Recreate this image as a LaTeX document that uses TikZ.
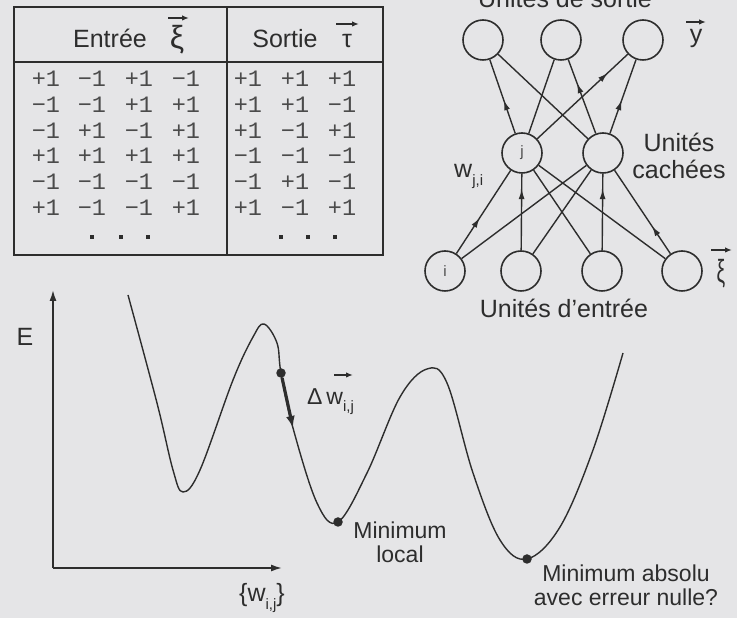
\documentclass[tikz,border=0pt]{standalone}
\usepackage{fontspec}
\setmainfont{Liberation Sans}
\setmonofont{Liberation Mono}
\usepackage{tikz}
\usetikzlibrary{positioning, decorations.markings, arrows.meta}

\definecolor{fond}{RGB}{229,229,231}
\definecolor{trait}{RGB}{45,45,45}
\definecolor{chiffre}{RGB}{75,75,75}

\newcommand{\subidx}[1]{\raisebox{-0.55ex}{\fontsize{15}{15}\selectfont #1}}

\tikzset{
    neuron/.style={circle, draw=trait, line width=1.6pt, minimum size=40pt, inner sep=0pt,
        font=\fontsize{15}{15}\selectfont, text=chiffre},
    edge/.style={draw=trait, line width=1.4pt},
    midarrow/.style={postaction={decorate}, decoration={markings,
        mark=at position #1 with {\arrow{Latex[length=10pt,width=6pt]}}}},
    lbl/.style={font=\fontsize{25}{27}\selectfont, text=trait, align=center, inner sep=0pt},
    note/.style={font=\fontsize{23}{24}\selectfont, text=trait, align=center, inner sep=0pt},
    greek/.style={font=\fontsize{32}{32}\selectfont, text=trait, inner sep=0pt},
    num/.style={font=\ttfamily\fontsize{23.5}{23.5}\selectfont, text=chiffre, inner sep=0pt},
    vecarrow/.style={-{Latex[length=7pt,width=5.5pt]}, line width=1.6pt, draw=trait},
    tableline/.style={draw=trait, line width=1.6pt},
    pointsq/.style={rectangle, fill=trait, inner sep=0pt, minimum size=4.5pt},
    dotpt/.style={circle, fill=trait, inner sep=0pt, minimum size=9.5pt},
    courbe/.style={draw=trait, line width=1.4pt},
}

\begin{document}
\begin{tikzpicture}[>=latex, x=1pt, y=1pt]
    \useasboundingbox (0,0) rectangle (737,618);
    \clip (0,0) rectangle (737,618);
    \fill[fond] (0,0) rectangle (737,618);

    % Bảng dữ liệu
    \draw[tableline] (14,363) rectangle (383,611);
    \draw[tableline] (14,556) -- (383,556);
    \draw[tableline] (227,363) -- (227,611);
    \node[lbl, anchor=base] (entree) at (110,570) {Entrée};
    \node[greek, anchor=base] (xi) at (177,569) {ξ};
    \draw[vecarrow] (168,600) -- (189,600);
    \node[lbl, anchor=base] (sortie) at (285,570) {Sortie};
    \node[lbl, anchor=base] (tau) at (347,570) {τ};
    \draw[vecarrow] (336,594) -- (359,594);
    \foreach \ligne [count=\r] in {{+1,−1,+1,−1,+1,+1,+1},{−1,−1,+1,+1,+1,+1,−1},
        {−1,+1,−1,+1,+1,−1,+1},{+1,+1,+1,+1,−1,−1,−1},{−1,−1,−1,−1,−1,+1,−1},
        {+1,−1,−1,+1,+1,−1,+1}} {
        \foreach \v [count=\c] in \ligne {
            \pgfmathsetmacro{\xx}{{46,92,139,186,248,295,342}[\c-1]}
            \node[num] (v-\r-\c) at (\xx, {565-25.8*\r}) {\v};
        }
    }
    \foreach \x [count=\k] in {92,121,148,281,308,335}
        \node[pointsq] (pt-\k) at (\x,381) {};

    % Mạng nơ-ron
    \node[neuron] (o1) at (483,578) {};
    \node[neuron] (o2) at (561,578) {};
    \node[neuron] (o3) at (643,578) {};
    \node[neuron] (h1) at (522,465) {j};
    \node[neuron] (h2) at (603,465) {};
    \node[neuron] (i1) at (445,347) {i};
    \node[neuron] (i2) at (521,347) {};
    \node[neuron] (i3) at (602,347) {};
    \node[neuron] (i4) at (682,347) {};

    \draw[edge, midarrow=0.45] (h1) -- (o1);
    \draw[edge] (h1) -- (o2);
    \draw[edge, midarrow=0.78] (h1) -- (o3);
    \draw[edge] (h2) -- (o1);
    \draw[edge, midarrow=0.68] (h2) -- (o2);
    \draw[edge, midarrow=0.45] (h2) -- (o3);
    \draw[edge, midarrow=0.43] (i1) -- (h1);
    \draw[edge] (i1) -- (h2);
    \draw[edge, midarrow=0.8] (i2) -- (h1);
    \draw[edge] (i2) -- (h2);
    \draw[edge] (i3) -- (h1);
    \draw[edge, midarrow=0.8] (i3) -- (h2);
    \draw[edge] (i4) -- (h1);
    \draw[edge, midarrow=0.33] (i4) -- (h2);

    \node[lbl, anchor=base] (usortie) at (565,610) {Unités de sortie};
    \node[lbl, anchor=base] (yv) at (696,575) {y};
    \draw[vecarrow] (686,596) -- (706,596);
    \node[lbl] (ucachees) at (679,462) {Unités\\cachées};
    \node[lbl, anchor=base west] (wji) at (454,440) {w\subidx{j,i}};
    \node[greek, anchor=base] (xiin) at (721,335) {\scalebox{0.6}[1]{ξ}};
    \draw[vecarrow] (711,368) -- (732,368);
    \node[lbl, anchor=base] (uentree) at (564,300) {Unités d'entrée};

    % Đồ thị hàm lỗi
    \coordinate (orig) at (53,50);
    \coordinate (ytop) at (53,328);
    \coordinate (xend) at (282,50);
    \draw[courbe, line width=1.6pt, -{Latex[length=11pt,width=7pt]}] (orig) -- (ytop);
    \draw[courbe, line width=1.6pt, -{Latex[length=11pt,width=7pt]}] (orig) -- (xend);
    \node[lbl] (E) at (25,281) {E};
    \node[lbl, anchor=base] (wij) at (262,16) {\{w\subidx{i,j}\}};

    \draw[courbe] plot[smooth, tension=0.6] coordinates {(128,323) (157,215) (173,148)
        (183,126) (200,148) (233,238) (253,281) (264,294) (277,275) (281,245) (293,190)
        (317,115) (338,96) (367,145) (400,221) (427,249) (447,235) (473,145) (500,78)
        (527,59) (560,91) (593,168) (623,265)};

    \node[dotpt] (pdot) at (281,245) {};
    \coordinate (ptip) at (293,190);
    \draw[draw=trait, line width=3.2pt, -{Latex[length=12pt,width=9pt]}] (pdot) -- (ptip);
    \node[note, anchor=base west] (dw) at (307,213) {Δ\,w\subidx{i,j}};
    \draw[vecarrow] (334,243) -- (353,243);

    \node[dotpt] (pmin) at (338,96) {};
    \node[dotpt] (pabs) at (527,59) {};
    \node[note] (mloc) at (400,76) {Minimum\\local};
    \node[note] (mabs) at (626,33) {Minimum absolu\\avec erreur nulle?};
\end{tikzpicture}
\end{document}
